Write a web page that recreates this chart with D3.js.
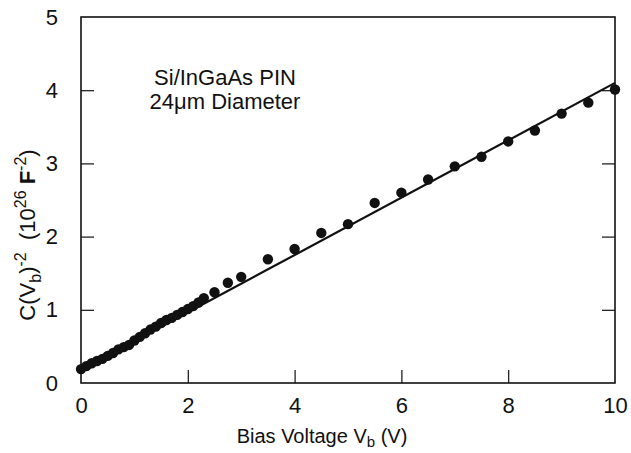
<!DOCTYPE html>
<html><head><meta charset="utf-8">
<script src="https://cdn.jsdelivr.net/npm/d3@7"></script>
<style>body{margin:0;background:#fff}svg{display:block}text{font-family:"Liberation Sans",Arial,sans-serif;fill:#111}</style>
</head><body><svg id="c" width="631" height="453"></svg>
<script>
const voltages = [0,0.1,0.2,0.3,0.4,0.5,0.6,0.7,0.8,0.9,1.0,1.1,1.2,1.3,1.4,1.5,1.6,1.7,1.8,1.9,2.0,2.1,2.2,2.3,2.5,2.75,3,3.5,4,4.5,5,5.5,6,6.5,7,7.5,8,8.5,9,9.5,10];
const invC2 = [0.19,0.23,0.27,0.30,0.33,0.37,0.41,0.46,0.49,0.52,0.58,0.63,0.68,0.73,0.77,0.82,0.86,0.89,0.93,0.97,1.01,1.05,1.10,1.16,1.24,1.37,1.45,1.69,1.83,2.05,2.17,2.46,2.60,2.78,2.96,3.09,3.30,3.45,3.68,3.83,4.01];
const fitX = [0,10];
const fitY = [0.18,4.10];
const xTicks = [0,2,4,6,8,10];
const yTicks = [0,1,2,3,4,5];

const svg = d3.select("#c");
const L=81,R=615,T=17,B=383;
const x = d3.scaleLinear().domain([0,10]).range([L,R]);
const y = d3.scaleLinear().domain([0,5]).range([B,T]);

svg.append("rect").attr("x",L).attr("y",T).attr("width",R-L).attr("height",B-T)
  .attr("fill","none").attr("stroke","#111").attr("stroke-width",1.6);

const tk=13;
const bottom = svg.append("g").attr("transform",`translate(0,${B})`)
  .call(d3.axisBottom(x).tickValues(xTicks).tickSize(-tk).tickPadding(tk+1).tickFormat(d3.format("d")));
const left = svg.append("g").attr("transform",`translate(${L},0)`)
  .call(d3.axisLeft(y).tickValues(yTicks).tickSize(-tk).tickPadding(tk+10).tickFormat(d3.format("d")));
const right = svg.append("g").attr("transform",`translate(${R},0)`)
  .call(d3.axisRight(y).tickValues(yTicks).tickSize(-tk).tickFormat(""));
[bottom,left,right].forEach(g=>{
  g.select(".domain").remove();
  g.selectAll(".tick line").attr("stroke","#111").attr("stroke-width",1.2);
  g.selectAll(".tick text").attr("font-size",22).style("font-family","Liberation Sans, Arial, sans-serif").attr("fill","#111");
});
left.selectAll(".tick").filter(d=>d===0||d===5).select("line").remove();
right.selectAll(".tick").filter(d=>d===0||d===5).select("line").remove();
bottom.selectAll(".tick").filter(d=>d===0||d===10).select("line").remove();

// fit line
svg.append("line").attr("x1",x(fitX[0])).attr("y1",y(fitY[0])).attr("x2",x(fitX[1])).attr("y2",y(fitY[1]))
  .attr("stroke","#111").attr("stroke-width",2.2);

// points
svg.append("g").selectAll("circle").data(voltages.map((v,i)=>[v,invC2[i]])).join("circle")
  .attr("cx",d=>x(d[0])).attr("cy",d=>y(d[1])).attr("r",5.2).attr("fill","#111");

// annotation
const ann = svg.append("text").attr("text-anchor","middle").attr("font-size",22);
ann.append("tspan").attr("x",225).attr("y",85).text("Si/InGaAs PIN");
ann.append("tspan").attr("x",225).attr("y",109).text("24μm Diameter");

// x label
const xl = svg.append("text").attr("x",322).attr("y",443).attr("text-anchor","middle").attr("font-size",20);
xl.append("tspan").text("Bias Voltage V");
xl.append("tspan").attr("font-size",15).attr("dy",4).text("b");
xl.append("tspan").attr("dy",-4).text(" (V)");

// y label
const yl = svg.append("text").attr("transform","translate(35,235) rotate(-90)").attr("text-anchor","middle").attr("font-size",22);
yl.append("tspan").text("C(V");
yl.append("tspan").attr("font-size",16).attr("dy",6).text("b");
yl.append("tspan").attr("dy",-6).text(")");
yl.append("tspan").attr("font-size",16).attr("dy",-9).text("-2");
yl.append("tspan").attr("dy",9).text("\u00a0\u00a0(10");
yl.append("tspan").attr("font-size",16).attr("dy",-9).text("26");
yl.append("tspan").attr("dy",9).attr("font-weight","bold").text(" F");
yl.append("tspan").attr("font-size",16).attr("dy",-9).text("-2");
yl.append("tspan").attr("dy",9).text(")");
</script></body></html>
